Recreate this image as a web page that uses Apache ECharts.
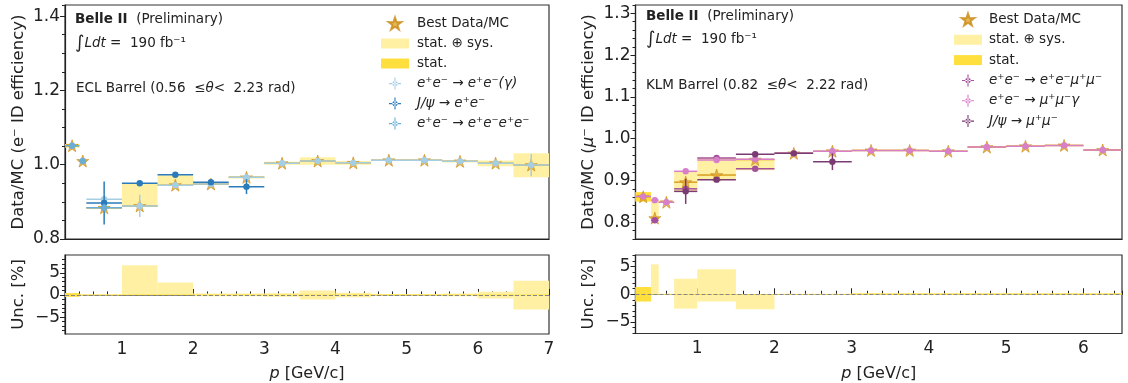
<!DOCTYPE html>
<html>
<head>
<meta charset="utf-8">
<script src="https://cdn.jsdelivr.net/npm/echarts@6/dist/echarts.min.js"></script>
<style>
  html, body { margin: 0; padding: 0; background: #fff; }
  #chart { width: 1128px; height: 383px; }
</style>
</head>
<body>
<div id="chart"></div>
<script>
// ---- ECL barrel (electrons) ----
const eclLo = [0.2, 0.4, 0.5, 1.0, 1.5, 2.0, 2.5, 3.0, 3.5, 4.0, 4.5, 5.0, 5.5, 6.0, 6.5];
const eclHi = [0.4, 0.5, 1.0, 1.5, 2.0, 2.5, 3.0, 3.5, 4.0, 4.5, 5.0, 5.5, 6.0, 6.5, 7.0];
const eclBest = [1.051, 1.010, 0.884, 0.889, 0.945, 0.948, 0.966, 1.004, 1.010, 1.005, 1.012, 1.012, 1.009, 1.004, 0.999];
// relative uncertainties in %
const eclTotUp = [0.4, 0.2, 0.1, 6.7, 2.8, 0.3, 0.3, 0.4, 1.0, 0.5, 0.2, 0.2, 0.3, 0.7, 3.2];
const eclTotDn = [0.4, 0.2, 0.1, 0.0, 0.0, 0.3, 0.3, 0.4, 1.0, 0.5, 0.2, 0.2, 0.3, 0.8, 3.3];
const eclStat = [0.4, 0.1, 0.1, 0.1, 0.1, 0.1, 0.1, 0.1, 0.1, 0.1, 0.1, 0.1, 0.1, 0.1, 0.1];
// channels: value, error
const eclEeg = [null, null, 0.907, 0.889, 0.945, 0.948, 0.966, 1.004, 1.010, 1.005, 1.012, 1.012, 1.009, 1.004, 0.999];
const eclEegErr = [0, 0, 0.008, 0.03, 0.004, 0.004, 0.004, 0.003, 0.003, 0.003, 0.003, 0.003, 0.003, 0.004, 0.03];
const eclJpsi = [null, null, 0.897, 0.950, 0.973, 0.953, 0.941, null, null, null, null, null, null, null, null];
const eclJpsiErr = [0, 0, 0.058, 0.004, 0.005, 0.004, 0.02, 0, 0, 0, 0, 0, 0, 0, 0];
const eclEeee = [1.051, 1.010, 0.884, null, null, null, null, null, null, null, null, null, null, null, null];
const eclEeeeErr = [0.003, 0.004, 0.01, 0, 0, 0, 0, 0, 0, 0, 0, 0, 0, 0, 0];

// ---- KLM barrel (muons) ----
const klmLo = [0.2, 0.4, 0.5, 0.7, 1.0, 1.5, 2.0, 2.5, 3.0, 3.5, 4.0, 4.5, 5.0, 5.5, 6.0];
const klmHi = [0.4, 0.5, 0.7, 1.0, 1.5, 2.0, 2.5, 3.0, 3.5, 4.0, 4.5, 5.0, 5.5, 6.0, 6.5];
const klmBest = [0.861, 0.810, 0.848, 0.896, 0.913, 0.950, 0.965, 0.970, 0.972, 0.972, 0.970, 0.980, 0.982, 0.984, 0.973];
const klmTotUp = [1.3, 5.4, 0.1, 2.8, 4.5, 0.0, 0.1, 0.1, 0.15, 0.15, 0.15, 0.15, 0.15, 0.15, 0.15];
const klmTotDn = [1.3, 0.0, 0.1, 2.6, 1.3, 2.7, 0.1, 0.1, 0.15, 0.15, 0.15, 0.15, 0.15, 0.15, 0.15];
const klmStat = [1.3, 0.05, 0.05, 0.05, 0.05, 0.05, 0.05, 0.05, 0.15, 0.15, 0.15, 0.15, 0.15, 0.15, 0.15];
const klmEemm = [null, 0.805, null, 0.880, 0.954, 0.928, null, null, null, null, null, null, null, null, null];
const klmEemmErr = [0, 0.004, 0, 0.006, 0.004, 0.004, 0, 0, 0, 0, 0, 0, 0, 0, 0];
const klmMmg = [0.862, 0.853, 0.848, 0.922, 0.949, 0.951, 0.965, 0.970, 0.972, 0.972, 0.970, 0.980, 0.982, 0.984, 0.973];
const klmMmgErr = [0.004, 0.004, 0.004, 0.004, 0.003, 0.003, 0.003, 0.003, 0.003, 0.003, 0.003, 0.003, 0.003, 0.003, 0.003];
const klmJpsi = [null, null, null, 0.874, 0.902, 0.963, 0.965, 0.945, null, null, null, null, null, null, null];
const klmJpsiErr = [0, 0, 0, 0.03, 0.004, 0.004, 0.004, 0.02, 0, 0, 0, 0, 0, 0, 0];

// ---- ticks ----
const eclXTicks = [1, 2, 3, 4, 5, 6, 7];
const klmXTicks = [1, 2, 3, 4, 5, 6];
const eclYTicks = [0.8, 1.0, 1.2, 1.4];
const klmYTicks = [0.8, 0.9, 1.0, 1.1, 1.2, 1.3];
const uncTicks = [-5, 0, 5];
const eclUncMinor = [-8, -7, -6, -4, -3, -2, -1, 1, 2, 3, 4, 6, 7, 8];
const klmUncMinor = [-7, -6, -4, -3, -2, -1, 1, 2, 3, 4, 6, 7];

const FONT = 'DejaVu Sans';
const INK = '#222';
const GOLD = '#e0a832';
const LIGHT_Y = '#fff0a3';
const DARK_Y = '#ffdf3d';

const STAR = 'path://M50,0 L61.8,35.3 L98.1,34.5 L69.1,56.7 L79.4,90.5 L50,70 L20.6,90.5 L30.9,56.7 L1.9,34.5 L38.2,35.3 Z';
const CROSS = 'path://M0,6h13v1.2H0z M5.9,0h1.2v13H5.9z M6.5,3.7a2.9,2.9 0 1,0 0.001,0z';
const BOX = 'path://M0,1h28v10H0z';

function mainBoxes(lo, hi, best, up, dn) {
  return best.map((b, i) => [lo[i], hi[i], b * (1 - dn[i] / 100), b * (1 + up[i] / 100)]);
}
function uncBoxes(lo, hi, up, dn) {
  return up.map((u, i) => [lo[i], hi[i], -dn[i], u]);
}
function channel(lo, hi, vals, errs) {
  const out = [];
  vals.forEach((v, i) => { if (v !== null) out.push([lo[i], hi[i], v, errs[i]]); });
  return out;
}

function renderBox(params, api) {
  const a = api.coord([api.value(0), api.value(3)]);
  const b = api.coord([api.value(1), api.value(2)]);
  return {
    type: 'rect',
    shape: { x: a[0], y: a[1], width: b[0] - a[0], height: Math.max(b[1] - a[1], 0.8) },
    style: { fill: api.visual('color') }
  };
}
function renderBinLine(params, api) {
  const a = api.coord([api.value(0), api.value(2)]);
  const b = api.coord([api.value(1), api.value(2)]);
  return {
    type: 'line',
    shape: { x1: a[0], y1: a[1], x2: b[0], y2: b[1] },
    style: { stroke: api.visual('color'), lineWidth: 1.5 }
  };
}
function renderPoint(params, api) {
  const lo = api.value(0), hi = api.value(1), y = api.value(2), e = api.value(3);
  const c = (lo + hi) / 2;
  const a = api.coord([lo, y]), b = api.coord([hi, y]);
  const t = api.coord([c, y + e]), d = api.coord([c, y - e]), m = api.coord([c, y]);
  const col = api.visual('color');
  return {
    type: 'group',
    children: [
      { type: 'line', shape: { x1: a[0], y1: a[1], x2: b[0], y2: b[1] }, style: { stroke: col, lineWidth: 1.5 } },
      { type: 'line', shape: { x1: t[0], y1: t[1], x2: d[0], y2: d[1] }, style: { stroke: col, lineWidth: 1.5 } },
      { type: 'circle', shape: { cx: m[0], cy: m[1], r: 3.2 }, style: { fill: col } }
    ]
  };
}

function boxSeries(name, xi, yi, data, color, extra) {
  return Object.assign({
    name: name, type: 'custom', xAxisIndex: xi, yAxisIndex: yi, z: 1,
    renderItem: renderBox, data: data, itemStyle: { color: color },
    encode: { x: [0, 1], y: [2, 3] }, silent: true
  }, extra || {});
}
function pointSeries(name, xi, yi, data, color) {
  return {
    name: name, type: 'custom', xAxisIndex: xi, yAxisIndex: yi, z: 5,
    renderItem: renderPoint, data: data, itemStyle: { color: color },
    encode: { x: [0, 1], y: 2 }, silent: true
  };
}
function bestSeries(xi, yi, lo, hi, best) {
  return [
    {
      name: 'bins', type: 'custom', xAxisIndex: xi, yAxisIndex: yi, z: 2,
      renderItem: renderBinLine, data: best.map((b, i) => [lo[i], hi[i], b]),
      itemStyle: { color: '#d9a02a' }, encode: { x: [0, 1], y: 2 }, silent: true
    },
    {
      name: 'Best Data/MC', type: 'scatter', xAxisIndex: xi, yAxisIndex: yi, z: 3,
      symbol: STAR, symbolSize: 12,
      data: best.map((b, i) => [(lo[i] + hi[i]) / 2, b]),
      itemStyle: { color: GOLD, borderColor: '#c98a14', borderWidth: 0.8 }, silent: true
    }
  ];
}

const zeroLine = {
  silent: true, symbol: 'none', label: { show: false },
  lineStyle: { type: [4, 2], color: '#888', width: 1 },
  data: [{ yAxis: 0 }]
};

const axisLineStyle = { color: INK, width: 1.2 };
const labelStyle = { fontFamily: FONT, fontSize: 17, color: INK };
const minus = v => (v < 0 ? '\u2212' + Math.abs(v) : String(v));

function mainX(grid, max) {
  return {
    gridIndex: grid, type: 'value', min: 0.2, max: max,
    axisLine: { lineStyle: axisLineStyle }, axisTick: { show: false },
    axisLabel: { show: false }, splitLine: { show: false }
  };
}
function bottomX(grid, max, ticks) {
  return [{
    gridIndex: grid, type: 'value', min: 0.2, max: max, position: 'bottom',
    axisLine: { lineStyle: axisLineStyle },
    axisTick: { inside: true, length: 6, customValues: ticks, lineStyle: { color: INK } },
    axisLabel: Object.assign({ customValues: ticks, margin: 7 }, labelStyle),
    splitLine: { show: false },
    name: '{i|p} [GeV/c]', nameLocation: 'middle', nameGap: 32,
    nameTextStyle: { fontFamily: FONT, fontSize: 16, color: INK, rich: { i: { fontStyle: 'italic', fontFamily: FONT, fontSize: 16, color: INK } } }
  }, {
    gridIndex: grid, type: 'value', min: 0.2, max: max, interval: 0.2, position: 'bottom',
    axisLine: { show: false },
    axisTick: { inside: true, length: 3.5, lineStyle: { color: INK } },
    axisLabel: { show: false }, splitLine: { show: false }
  }];
}
function yPair(grid, min, max, ticks, minor, fmt, name, rich) {
  const major = {
    gridIndex: grid, type: 'value', min: min, max: max, position: 'left',
    axisLine: { show: true, lineStyle: axisLineStyle },
    axisTick: { show: true, length: 5, customValues: ticks, lineStyle: { color: INK } },
    axisLabel: Object.assign({ customValues: ticks, formatter: fmt, margin: 5 }, labelStyle),
    splitLine: { show: false },
    name: name, nameLocation: 'middle', nameGap: 38,
    nameTextStyle: { fontFamily: FONT, fontSize: 16.5, color: INK, rich: rich || {} }
  };
  const minorAxis = {
    gridIndex: grid, type: 'value', min: min, max: max, position: 'left',
    axisLine: { show: false },
    axisTick: { show: true, length: 3, lineStyle: { color: INK } },
    axisLabel: { show: false }, splitLine: { show: false }
  };
  if (Array.isArray(minor)) minorAxis.axisTick.customValues = minor;
  else minorAxis.interval = minor;
  return [major, minorAxis];
}

const italicRich = { i: { fontStyle: 'italic', fontFamily: FONT, fontSize: 16.5, color: INK } };

const gridStyle = { show: true, borderColor: '#333', borderWidth: 1.2, containLabel: false };

function annot(left, top, text) {
  return {
    type: 'text', left: left, top: top,
    style: {
      text: text, fontFamily: FONT, fontSize: 13.5, fill: INK,
      rich: {
        b: { fontWeight: 'bold', fontFamily: FONT, fontSize: 13.5, fill: INK },
        i: { fontStyle: 'italic', fontFamily: FONT, fontSize: 13.5, fill: INK },
        s: { fontSize: 18, fontFamily: FONT, fill: INK }
      }
    }
  };
}

function legendBlock(left, top, gap, pad, names) {
  return {
    orient: 'vertical', left: left, top: top, itemWidth: 28, itemHeight: 12, itemGap: gap,
    selectedMode: false,
    textStyle: { fontFamily: FONT, fontSize: 13.5, color: INK, padding: [0, 0, 0, pad] },
    data: [
      { name: 'Best Data/MC', icon: STAR },
      { name: 'stat. \u2295 sys.', icon: BOX },
      { name: 'stat.', icon: BOX }
    ].concat(names.map(n => ({ name: n, icon: CROSS, textStyle: { fontStyle: 'italic' } })))
  };
}

const eclNames = ['e\u207Ae\u207B \u2192 e\u207Ae\u207B(\u03B3)', 'J/\u03C8 \u2192 e\u207Ae\u207B', 'e\u207Ae\u207B \u2192 e\u207Ae\u207Be\u207Ae\u207B'];
const klmNames = ['e\u207Ae\u207B \u2192 e\u207Ae\u207B\u03BC\u207A\u03BC\u207B', 'e\u207Ae\u207B \u2192 \u03BC\u207A\u03BC\u207B\u03B3', 'J/\u03C8 \u2192 \u03BC\u207A\u03BC\u207B'];

const option = {
  animation: false,
  backgroundColor: '#fff',
  textStyle: { fontFamily: FONT },
  grid: [
    Object.assign({ left: 65, top: 5, width: 484, height: 234 }, gridStyle),
    Object.assign({ left: 65, top: 255, width: 484, height: 79 }, gridStyle),
    Object.assign({ left: 635.5, top: 5, width: 486.5, height: 234 }, gridStyle),
    Object.assign({ left: 635.5, top: 255, width: 486.5, height: 78.5 }, gridStyle)
  ],
  xAxis: [
    mainX(0, 7),
    ...bottomX(1, 7, eclXTicks),
    mainX(2, 6.5),
    ...bottomX(3, 6.5, klmXTicks)
  ],
  yAxis: [
    ...yPair(0, 0.8, 1.43, eclYTicks, 0.05, v => v.toFixed(1), 'Data/MC (e\u207B ID efficiency)'),
    ...yPair(1, -8.8, 9, uncTicks, eclUncMinor, minus, 'Unc. [%]'),
    ...yPair(2, 0.76, 1.32, klmYTicks, 0.02, v => v.toFixed(1), 'Data/MC ({i|\u03BC}\u207B ID efficiency)', italicRich),
    ...yPair(3, -7.1, 7.1, uncTicks, klmUncMinor, minus, 'Unc. [%]')
  ],
  legend: [
    legendBlock(376, 11.5, 6, 3, eclNames),
    legendBlock(949, 7.5, 6.3, 2, klmNames)
  ],
  graphic: [
    annot(75, 12, '{b|Belle II}  (Preliminary)'),
    annot(75, 34, '{s|\u222B}{i|Ldt} =  190 fb\u207B\u00B9'),
    annot(76, 81, 'ECL Barrel (0.56  \u2264{i|\u03B8}<  2.23 rad)'),
    annot(646, 9, '{b|Belle II}  (Preliminary)'),
    annot(646, 30, '{s|\u222B}{i|Ldt} =  190 fb\u207B\u00B9'),
    annot(646, 78, 'KLM Barrel (0.82  \u2264{i|\u03B8}<  2.22 rad)')
  ],
  series: [
    // ECL main
    boxSeries('stat. \u2295 sys.', 0, 0, mainBoxes(eclLo, eclHi, eclBest, eclTotUp, eclTotDn), LIGHT_Y),
    boxSeries('stat.', 0, 0, mainBoxes(eclLo, eclHi, eclBest, eclStat, eclStat), DARK_Y),
    ...bestSeries(0, 0, eclLo, eclHi, eclBest),
    pointSeries(eclNames[0], 0, 0, channel(eclLo, eclHi, eclEeg, eclEegErr), '#a6cee3'),
    pointSeries(eclNames[1], 0, 0, channel(eclLo, eclHi, eclJpsi, eclJpsiErr), '#2b7bba'),
    pointSeries(eclNames[2], 0, 0, channel(eclLo, eclHi, eclEeee, eclEeeeErr), '#6aaed6'),
    // ECL uncertainties
    boxSeries('stat. \u2295 sys.', 1, 2, uncBoxes(eclLo, eclHi, eclTotUp, eclTotDn), LIGHT_Y, { markLine: zeroLine }),
    boxSeries('stat.', 1, 2, uncBoxes(eclLo, eclHi, eclStat, eclStat), DARK_Y),
    // KLM main
    boxSeries('stat. \u2295 sys.', 3, 4, mainBoxes(klmLo, klmHi, klmBest, klmTotUp, klmTotDn), LIGHT_Y),
    boxSeries('stat.', 3, 4, mainBoxes(klmLo, klmHi, klmBest, klmStat, klmStat), DARK_Y),
    ...bestSeries(3, 4, klmLo, klmHi, klmBest),
    pointSeries(klmNames[0], 3, 4, channel(klmLo, klmHi, klmEemm, klmEemmErr), '#a5509a'),
    pointSeries(klmNames[1], 3, 4, channel(klmLo, klmHi, klmMmg, klmMmgErr), '#d87fca'),
    pointSeries(klmNames[2], 3, 4, channel(klmLo, klmHi, klmJpsi, klmJpsiErr), '#7a3a72'),
    // KLM uncertainties
    boxSeries('stat. \u2295 sys.', 4, 6, uncBoxes(klmLo, klmHi, klmTotUp, klmTotDn), LIGHT_Y, { markLine: zeroLine }),
    boxSeries('stat.', 4, 6, uncBoxes(klmLo, klmHi, klmStat, klmStat), DARK_Y)
  ]
};

const chart = echarts.init(document.getElementById('chart'), null, { renderer: 'canvas' });
chart.setOption(option);
</script>
</body>
</html>
